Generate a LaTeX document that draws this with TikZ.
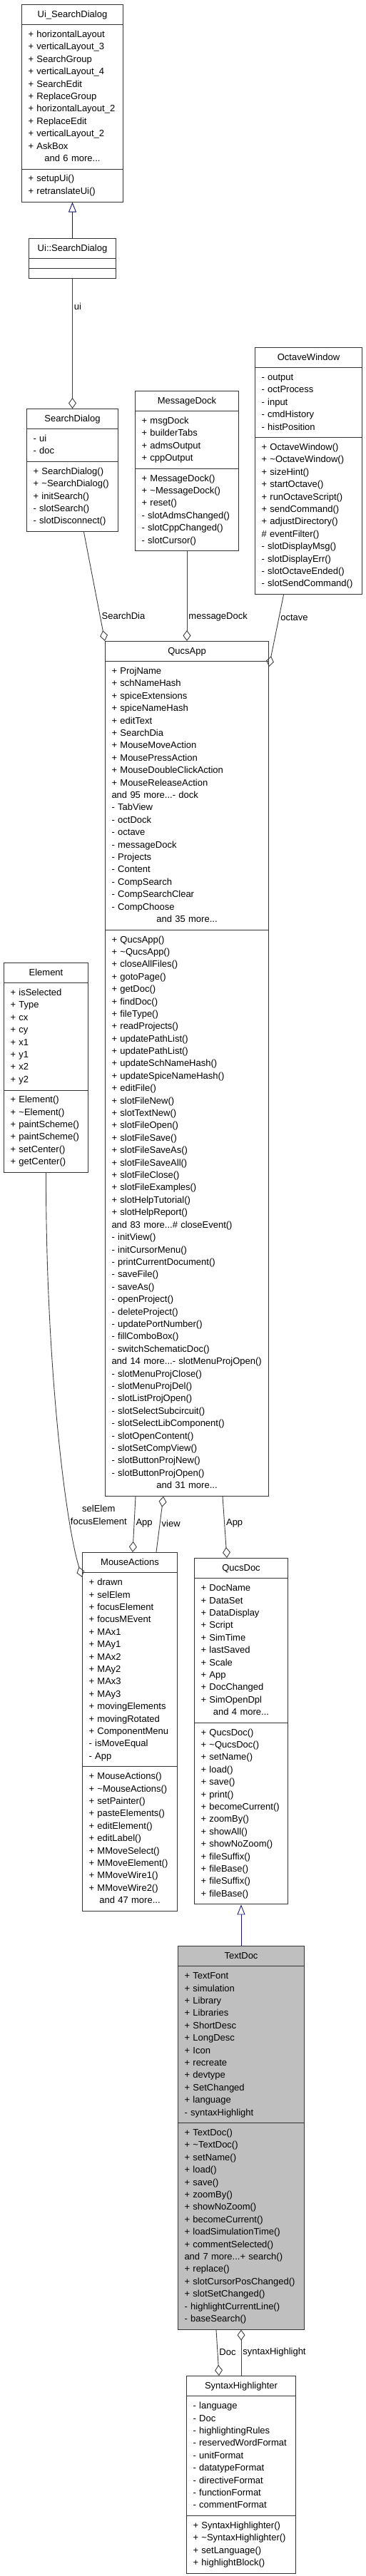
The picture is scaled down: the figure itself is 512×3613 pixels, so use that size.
\documentclass[tikz,border=0pt]{standalone}
\usepackage{fontspec}
\setmainfont{Liberation Sans}
\usetikzlibrary{shapes.multipart,arrows.meta}
\definecolor{inhblue}{RGB}{25,25,112}
\definecolor{edgegray}{RGB}{64,64,64}
\definecolor{docgray}{RGB}{191,191,191}
\newcommand{\mlist}[1]{\begin{tabular}{@{}l@{}}#1\end{tabular}}
\newcommand{\ctitle}[1]{\mlist{\makebox[\linewidth]{#1}}}
\newcommand{\more}[1]{\makebox[\linewidth]{and #1 more...}}
\newcommand{\dt}{\textasciitilde}
\begin{document}
\begin{tikzpicture}[x=1pt,y=-1pt,
    classbox/.style={rectangle split, rectangle split parts=3, draw=black!80, line width=1pt,
      anchor=north west, inner xsep=9pt, inner ysep=5pt, align=left, text width=#1,
      font=\fontsize{13}{17.4}\selectfont},
    usage/.style={draw=edgegray, line width=0.9pt, -{Diamond[open,length=15pt,width=11pt]}},
    inherit/.style={draw=inhblue, line width=0.9pt, -{Triangle[open,length=14pt,width=11pt]}},
    lbl/.style={anchor=west, inner sep=2pt, font=\fontsize{13}{17.4}\selectfont}]
  \fill[white] (0,0) rectangle (512,3613);
  \useasboundingbox (0,0) rectangle (512,3613);

  % classes
  \node[classbox=124pt] (UiSD) at (30,6) {\ctitle{Ui\_SearchDialog}
    \nodepart{two}\mlist{+ horizontalLayout\\+ verticalLayout\_3\\+ SearchGroup\\+ verticalLayout\_4\\
      + SearchEdit\\+ ReplaceGroup\\+ horizontalLayout\_2\\+ ReplaceEdit\\+ verticalLayout\_2\\+ AskBox\\\more{6}}
    \nodepart{three}\mlist{+ setupUi()\\+ retranslateUi()}};
  \node[classbox=104pt] (UiNS) at (40,334) {\ctitle{Ui::SearchDialog}
    \nodepart{two}\mlist{}\nodepart{three}\mlist{}};
  \node[classbox=110pt] (SD) at (37,573) {\ctitle{SearchDialog}
    \nodepart{two}\mlist{- ui\\- doc}
    \nodepart{three}\mlist{+ SearchDialog()\\+ \dt SearchDialog()\\+ initSearch()\\- slotSearch()\\- slotDisconnect()}};
  \node[classbox=127pt] (MD) at (189,548) {\ctitle{MessageDock}
    \nodepart{two}\mlist{+ msgDock\\+ builderTabs\\+ admsOutput\\+ cppOutput}
    \nodepart{three}\mlist{+ MessageDock()\\+ \dt MessageDock()\\+ reset()\\- slotAdmsChanged()\\- slotCppChanged()\\- slotCursor()}};
  \node[classbox=132pt] (OW) at (357,487) {\ctitle{OctaveWindow}
    \nodepart{two}\mlist{- output\\- octProcess\\- input\\- cmdHistory\\- histPosition}
    \nodepart{three}\mlist{+ OctaveWindow()\\+ \dt OctaveWindow()\\+ sizeHint()\\+ startOctave()\\+ runOctaveScript()\\
      + sendCommand()\\+ adjustDirectory()\\\# eventFilter()\\- slotDisplayMsg()\\- slotDisplayErr()\\- slotOctaveEnded()\\- slotSendCommand()}};
  \node[classbox=211pt] (QA) at (147,899) {\ctitle{QucsApp}
    \nodepart{two}\mlist{+ ProjName\\+ schNameHash\\+ spiceExtensions\\+ spiceNameHash\\+ editText\\+ SearchDia\\
      + MouseMoveAction\\+ MousePressAction\\+ MouseDoubleClickAction\\+ MouseReleaseAction\\and 95 more...- dock\\
      - TabView\\- octDock\\- octave\\- messageDock\\- Projects\\- Content\\- CompSearch\\- CompSearchClear\\- CompChoose\\\more{35}}
    \nodepart{three}\mlist{+ QucsApp()\\+ \dt QucsApp()\\+ closeAllFiles()\\+ gotoPage()\\+ getDoc()\\+ findDoc()\\+ fileType()\\
      + readProjects()\\+ updatePathList()\\+ updatePathList()\\+ updateSchNameHash()\\+ updateSpiceNameHash()\\+ editFile()\\
      + slotFileNew()\\+ slotTextNew()\\+ slotFileOpen()\\+ slotFileSave()\\+ slotFileSaveAs()\\+ slotFileSaveAll()\\
      + slotFileClose()\\+ slotFileExamples()\\+ slotHelpTutorial()\\+ slotHelpReport()\\and 83 more...\# closeEvent()\\
      - initView()\\- initCursorMenu()\\- printCurrentDocument()\\- saveFile()\\- saveAs()\\- openProject()\\- deleteProject()\\
      - updatePortNumber()\\- fillComboBox()\\- switchSchematicDoc()\\and 14 more...- slotMenuProjOpen()\\- slotMenuProjClose()\\
      - slotMenuProjDel()\\- slotListProjOpen()\\- slotSelectSubcircuit()\\- slotSelectLibComponent()\\- slotOpenContent()\\
      - slotSetCompView()\\- slotButtonProjNew()\\- slotButtonProjOpen()\\\more{31}}};
  \node[classbox=100pt] (El) at (5,1350) {\ctitle{Element}
    \nodepart{two}\mlist{+ isSelected\\+ Type\\+ cx\\+ cy\\+ x1\\+ y1\\+ x2\\+ y2}
    \nodepart{three}\mlist{+ Element()\\+ \dt Element()\\+ paintScheme()\\+ paintScheme()\\+ setCenter()\\+ getCenter()}};
  \node[classbox=115pt] (MA) at (115,2177) {\ctitle{MouseActions}
    \nodepart{two}\mlist{+ drawn\\+ selElem\\+ focusElement\\+ focusMEvent\\+ MAx1\\+ MAy1\\+ MAx2\\+ MAy2\\+ MAx3\\+ MAy3\\
      + movingElements\\+ movingRotated\\+ ComponentMenu\\- isMoveEqual\\- App}
    \nodepart{three}\mlist{+ MouseActions()\\+ \dt MouseActions()\\+ setPainter()\\+ pasteElements()\\+ editElement()\\+ editLabel()\\
      + MMoveSelect()\\+ MMoveElement()\\+ MMoveWire1()\\+ MMoveWire2()\\\more{47}}};
  \node[classbox=113pt] (QD) at (272,2185) {\ctitle{QucsDoc}
    \nodepart{two}\mlist{+ DocName\\+ DataSet\\+ DataDisplay\\+ Script\\+ SimTime\\+ lastSaved\\+ Scale\\+ App\\+ DocChanged\\+ SimOpenDpl\\\more{4}}
    \nodepart{three}\mlist{+ QucsDoc()\\+ \dt QucsDoc()\\+ setName()\\+ load()\\+ save()\\+ print()\\+ becomeCurrent()\\+ zoomBy()\\
      + showAll()\\+ showNoZoom()\\+ fileSuffix()\\+ fileBase()\\+ fileSuffix()\\+ fileBase()}};
  \node[classbox=159pt, fill=docgray] (TD) at (249,2729) {\ctitle{TextDoc}
    \nodepart{two}\mlist{+ TextFont\\+ simulation\\+ Library\\+ Libraries\\+ ShortDesc\\+ LongDesc\\+ Icon\\+ recreate\\+ devtype\\
      + SetChanged\\+ language\\- syntaxHighlight}
    \nodepart{three}\mlist{+ TextDoc()\\+ \dt TextDoc()\\+ setName()\\+ load()\\+ save()\\+ zoomBy()\\+ showNoZoom()\\+ becomeCurrent()\\
      + loadSimulationTime()\\+ commentSelected()\\and 7 more...+ search()\\+ replace()\\+ slotCursorPosChanged()\\+ slotSetChanged()\\
      - highlightCurrentLine()\\- baseSearch()}};
  \node[classbox=135pt] (SH) at (261,3332) {\ctitle{SyntaxHighlighter}
    \nodepart{two}\mlist{- language\\- Doc\\- highlightingRules\\- reservedWordFormat\\- unitFormat\\- datatypeFormat\\
      - directiveFormat\\- functionFormat\\- commentFormat}
    \nodepart{three}\mlist{+ SyntaxHighlighter()\\+ \dt SyntaxHighlighter()\\+ setLanguage()\\+ highlightBlock()}};

  % relations
  \draw[inherit] (UiNS.north) -- (UiSD.south);
  \draw[usage] (UiNS.south) -- node[lbl,pos=0.21] (lui) {ui} (SD.north);
  \draw[usage] ([xshift=16pt]SD.south) -- node[lbl,pos=0.77] (lsd) {SearchDia} (QA.north west);
  \draw[usage] (MD.south) -- node[lbl,pos=0.73] (lmd) {messageDock} (QA.north);
  \draw[usage] ([xshift=-35pt]OW.south) -- node[lbl,pos=0.32] (lov) {octave} ([yshift=-36pt]QA.north east);
  \draw[usage] (El.south) .. controls (64,1900) and (90,2130) ..
    node[lbl,pos=0.75,align=center] (lel) {selElem\\focusElement} ([yshift=-35pt]MA.north west);
  \draw[usage] ([xshift=-72pt]QA.south) -- node[lbl,pos=0.48] (lap1) {App} ([xshift=4pt]MA.north);
  \draw[usage] ([xshift=37pt]MA.north) -- node[lbl,pos=0.52] (lvw) {view} ([xshift=-33pt]QA.south);
  \draw[usage] ([xshift=50pt]QA.south) -- node[lbl,pos=0.44] (lap2) {App} ([xshift=-20pt]QD.north);
  \draw[inherit] (TD.north) -- (QD.south);
  \draw[usage] ([xshift=-35pt]TD.south) -- node[lbl,pos=0.49] (ldoc) {Doc} ([xshift=-31pt]SH.north);
  \draw[usage] (SH.north) -- node[lbl,pos=0.51] (lsh) {syntaxHighlight} (TD.south);
\end{tikzpicture}
\end{document}
